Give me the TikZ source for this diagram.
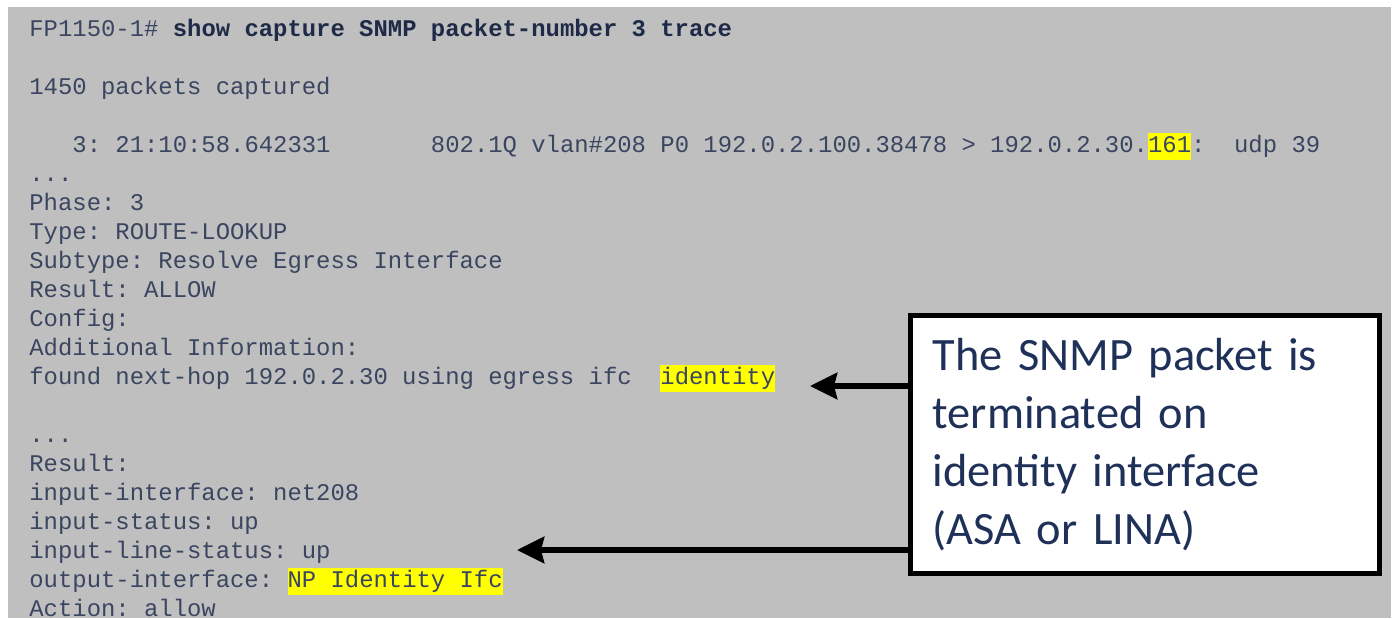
\documentclass[tikz,border=0pt]{standalone}
\usepackage{fontspec}
\setmonofont{Liberation Mono}
\setsansfont{Carlito}
\usetikzlibrary{arrows.meta}

\definecolor{screengray}{HTML}{BFBFBF}
\definecolor{termtext}{HTML}{3A4560}
\definecolor{cmdtext}{HTML}{1E2A48}
\definecolor{notetext}{HTML}{1F3158}
\definecolor{hiyellow}{HTML}{FFFF00}

\newcommand{\hilite}[1]{{\setlength{\fboxsep}{0pt}\colorbox{hiyellow}{\rule[-4pt]{0pt}{13.5pt}#1}}}

\begin{document}
\begin{tikzpicture}[x=0.5pt,y=-0.5pt,>={Stealth[length=13.5pt,width=13pt,inset=1.5pt]},
  term/.style={anchor=base west,inner sep=0pt,text=termtext,
    font=\ttfamily\fontsize{11.95}{14}\selectfont},
  callout/.style={draw=black,line width=2.5pt,fill=white,text=notetext,
    minimum width=234.75pt,minimum height=129pt,text width=212pt,
    inner xsep=11pt,align=left,font=\sffamily\fontsize{23.2}{29}\selectfont},
  pointer/.style={->,line width=3pt,black}]

  \useasboundingbox (0,0) rectangle (1393,618);
  \fill[screengray] (8,7) rectangle (1391,618);

% define the trace lines
  \node[term] (cmd)      at (29,36)  {FP1150-1\# \textcolor{cmdtext}{\bfseries show capture SNMP packet-number 3 trace}};
  \node[term] (count)    at (29,94)  {1450 packets captured};
  \node[term] (pkt)      at (29,152) {~~~3: 21:10:58.642331~~~~~~~802.1Q vlan\#208 P0 192.0.2.100.38478 > 192.0.2.30.\hilite{161}:~~udp 39};
  \node[term] (dots1)    at (29,181) {...};
  \node[term] (phase)    at (29,210) {Phase: 3};
  \node[term] (type)     at (29,239) {Type: ROUTE-LOOKUP};
  \node[term] (subtype)  at (29,268) {Subtype: Resolve Egress Interface};
  \node[term] (result1)  at (29,297) {Result: ALLOW};
  \node[term] (config)   at (29,326) {Config:};
  \node[term] (addinfo)  at (29,355) {Additional Information:};
  \node[term] (nexthop)  at (29,384) {found next-hop 192.0.2.30 using egress ifc~~\hilite{identity}};
  \node[term] (dots2)    at (29,442) {...};
  \node[term] (result2)  at (29,471) {Result:};
  \node[term] (inif)     at (29,500) {input-interface: net208};
  \node[term] (instat)   at (29,529) {input-status: up};
  \node[term] (inline)   at (29,558) {input-line-status: up};
  \node[term] (outif)    at (29,587) {output-interface: \hilite{NP Identity Ifc}};
  \node[term] (action)   at (29,616) {Action: allow};

% define the callout
  \node[callout] (note) at (1144.75,444.5)
{The SNMP packet is\\ terminated on\\ identity interface\\ (ASA or LINA)};

% define the pointers
  \coordinate (tipA) at (810,386);
  \coordinate (tipB) at (517,550);
  \path[pointer] (note.west |- tipA) edge (tipA)
                 (note.west |- tipB) edge (tipB);

\end{tikzpicture}
\end{document}
